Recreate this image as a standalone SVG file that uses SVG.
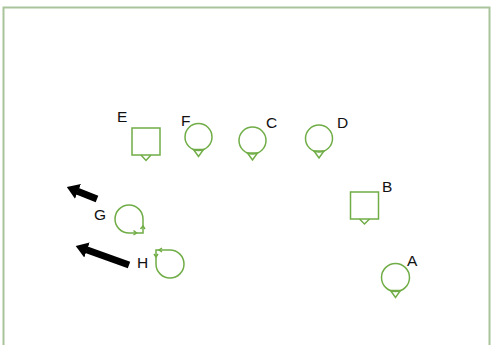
<svg xmlns="http://www.w3.org/2000/svg" width="491" height="345" viewBox="0 0 491 345">
<style>
.shape{fill:none;stroke:#70ad47;stroke-width:1.5}
.lbl{font-family:"Liberation Sans",Arial,sans-serif;font-size:15.5px;fill:#111}
.arrow{stroke:#000;stroke-width:7;fill:none}
</style>
<defs>
<marker id="ah" markerUnits="userSpaceOnUse" markerWidth="12" markerHeight="16" viewBox="0 0 12 16" refX="0.5" refY="8" orient="auto">
<path d="M0,0 L12,8 L0,16 z" fill="#000"/>
</marker>
</defs>
<rect x="0" y="0" width="491" height="345" fill="#fff"/>
<path d="M3.5,350 V7.5 H489.5 V350" fill="none" stroke="#a9c49b" stroke-width="2"/>
<g id="connectors">
<line class="arrow" x1="97" y1="199" x2="77.5" y2="191.2" marker-end="url(#ah)"/>
<line class="arrow" x1="129" y1="265" x2="86.5" y2="249.8" marker-end="url(#ah)"/>
</g>
<g id="node-E">
<rect class="shape" x="132" y="128" width="28" height="27"/>
<polyline class="shape" points="141,155 146,160.5 151,155"/>
<text class="lbl" x="117" y="122">E</text>
</g>
<g id="node-F">
<circle class="shape" cx="198.5" cy="137" r="13.5"/>
<polygon class="shape" points="193.5,149.5 198.5,156.5 203.5,149.5"/>
<text class="lbl" x="181" y="126">F</text>
</g>
<g id="node-C">
<circle class="shape" cx="252.5" cy="140.5" r="13.5"/>
<polygon class="shape" points="247.5,153 252.5,160 257.5,153"/>
<text class="lbl" x="266" y="128">C</text>
</g>
<g id="node-D">
<circle class="shape" cx="319" cy="138.5" r="13.5"/>
<polygon class="shape" points="314,151 319,158 324,151"/>
<text class="lbl" x="337" y="128">D</text>
</g>
<g id="node-B">
<rect class="shape" x="350.5" y="192" width="28" height="27"/>
<polyline class="shape" points="359.5,219 364.5,224 369.5,219"/>
<text class="lbl" x="382" y="192">B</text>
</g>
<g id="node-A">
<circle class="shape" cx="395.5" cy="277.5" r="14"/>
<polygon class="shape" points="390.5,290.5 395.5,297.5 400.5,290.5"/>
<text class="lbl" x="407" y="266">A</text>
</g>
<g id="node-G">
<path class="shape" d="M143,219 A14,14 0 1 0 129,233 L143,233 Z"/>
<polyline class="shape" points="133.5,230.5 136.5,233 133.5,235" stroke-width="1.2"/>
<polyline class="shape" points="140.5,229 143,226 145,229" stroke-width="1.2"/>
<text class="lbl" x="94" y="220">G</text>
</g>
<g id="node-H">
<path class="shape" d="M156,264 A14,14 0 1 0 170,250 L156,250 Z"/>
<polyline class="shape" points="154,254 156,257 158,254" stroke-width="1.2"/>
<polyline class="shape" points="162,248 159,250 162,252" stroke-width="1.2"/>
<text class="lbl" x="137" y="268">H</text>
</g>
</svg>
